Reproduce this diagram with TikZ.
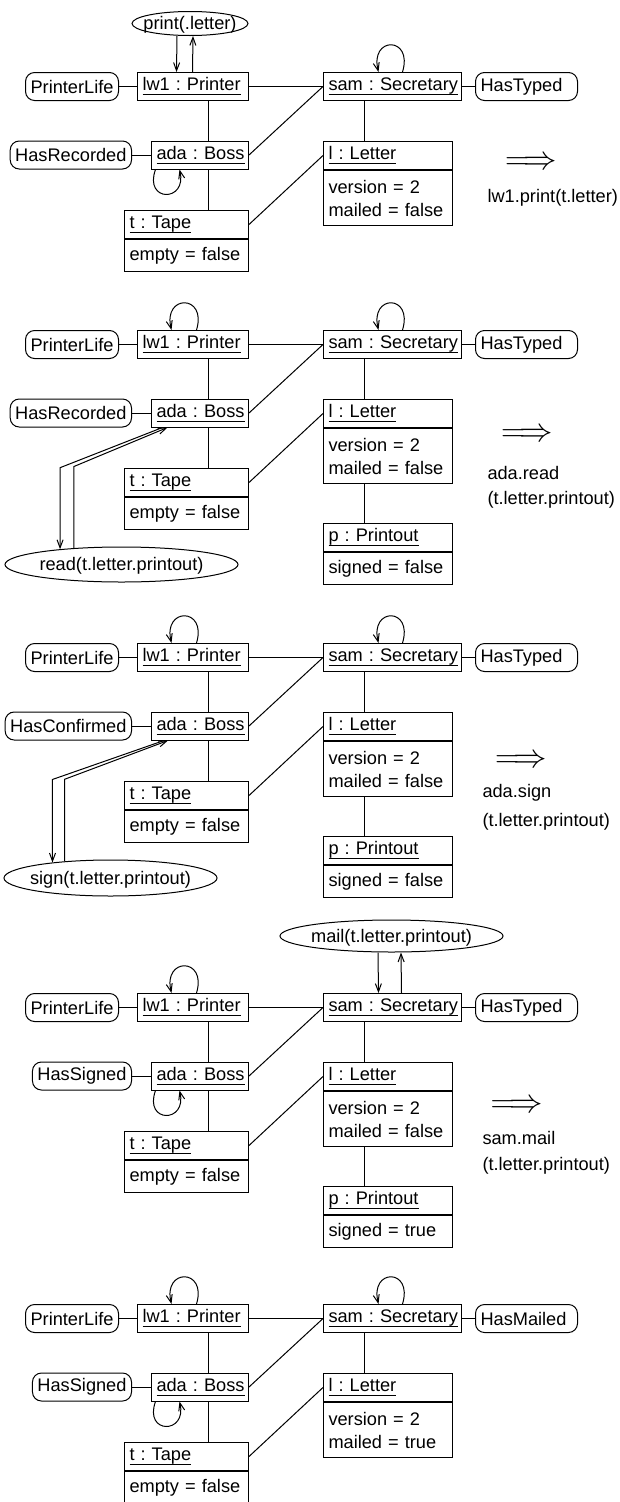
\documentclass[tikz,border=0pt]{standalone}
\usepackage{fontspec}
\setmainfont{Liberation Sans}
\usepackage{amsmath}
\usetikzlibrary{positioning,shapes.geometric,arrows.meta,calc}

\newcommand{\objname}[1]{\underline{\smash[b]{#1}\rule[-1.5pt]{0pt}{0pt}}}
\newcommand{\callname}[1]{\makebox[0pt]{\raisebox{-0.33em}[0pt][0pt]{#1}}}

\begin{document}
\begin{tikzpicture}[
    x=1pt, y=-1pt,
    font=\fontsize{18.2pt}{23pt}\selectfont\frenchspacing,
    line width=1pt,
    node distance=19pt,
    objhead/.style={rectangle, draw, text width=#1, align=left, inner xsep=5pt, inner ysep=0pt, minimum height=28pt},
    objattr/.style={rectangle, draw, text width=#1, align=left, inner xsep=5pt, inner ysep=0pt, minimum height=32pt},
    state/.style={rectangle, draw, rounded corners=9pt, inner xsep=5pt, inner ysep=0pt, minimum height=28pt},
    rstate/.style={state, text width=92pt, align=left},
    call/.style={ellipse, draw, inner sep=0pt},
    arrow/.style={-{Straight Barb[length=8pt,width=6pt]}},
    implies/.style={inner sep=0pt},
    optext/.style={inner sep=0pt, anchor=west}
]
\useasboundingbox (0,0) rectangle (619,1502);

% Panel 1
\begin{scope}[shift={(0,72)}]
  % Objects
  \node[objhead=101pt, anchor=north east] (printer1) at (249,0) {\objname{lw1 : Printer}};
  \node[objhead=128pt, anchor=north west] (secretary1) at (323,0) {\objname{sam : Secretary}};
  \node[objhead=87pt, anchor=north east] (boss1) at (249,68.5) {\objname{ada : Boss}};
  \node[objhead=114pt, anchor=north east] (tape1) at (249,138) {\objname{t : Tape}};
  \node[objattr=114pt, below=0pt of tape1] (tapeattr1) {empty = false};
  \node[objhead=119pt, anchor=north west] (letter1) at (323,69) {\objname{l : Letter}};
  \node[objattr=119pt, minimum height=55pt, below=0pt of letter1] (letterattr1) {version = 2\\mailed = false};
  % States
  \node[state, left=18pt of printer1] (life1) {PrinterLife};
  \node[state, left=of boss1] (recorded1) {HasRecorded};
  \node[rstate, right=13pt of secretary1] (typed1) {HasTyped};
  % Call
  \node[call, minimum width=116pt, minimum height=24pt] (print1) at (190,-48.5) {\callname{print(.letter)}};
  % Links
  \draw (life1) -- (printer1);
  \draw (recorded1) -- (boss1);
  \draw (secretary1) -- (typed1);
  \draw (printer1) -- (secretary1);
  \draw (boss1.east) -- (secretary1.west);
  \draw (tape1.east) -- (letter1.west);
  \draw ([xshift=-41pt]printer1.south east) -- ([xshift=-41pt]boss1.north east);
  \draw ([xshift=-41pt]boss1.south east) -- ([xshift=-41pt]tape1.north east);
  \draw ([xshift=41pt]secretary1.south west) -- ([xshift=41pt]letter1.north west);
  % Messages
  \draw[arrow] ([xshift=-13pt]print1.south) -- ([xshift=-16.5pt]printer1.north);
  \draw[arrow] ([xshift=-0.5pt]printer1.north) -- ([xshift=3pt]print1.south);
  \draw[arrow] ([xshift=10pt]secretary1.north) .. controls +(11,-36) and +(-9,-36) .. ([xshift=-14pt]secretary1.north);
  \draw[arrow] ([xshift=-44.5pt]boss1.south) .. controls +(-12,33) and +(8,33) .. ([xshift=-20.5pt]boss1.south);
  % Step
  \node[implies] (goes1) at (531,91) {\resizebox{52pt}{!}{$\Longrightarrow$}};
  \node[optext] (op1) at (487,126) {lw1.print(t.letter)};
\end{scope}

% Panel 2
\begin{scope}[shift={(0,330)}]
  % Objects
  \node[objhead=101pt, anchor=north east] (printer2) at (249,0) {\objname{lw1 : Printer}};
  \node[objhead=128pt, anchor=north west] (secretary2) at (323,0) {\objname{sam : Secretary}};
  \node[objhead=87pt, anchor=north east] (boss2) at (249,68.5) {\objname{ada : Boss}};
  \node[objhead=114pt, anchor=north east] (tape2) at (249,138) {\objname{t : Tape}};
  \node[objattr=114pt, below=0pt of tape2] (tapeattr2) {empty = false};
  \node[objhead=119pt, anchor=north west] (letter2) at (323,69) {\objname{l : Letter}};
  \node[objattr=119pt, minimum height=55pt, below=0pt of letter2] (letterattr2) {version = 2\\mailed = false};
  \node[objhead=119pt, anchor=north west] (printout2) at (323,193) {\objname{p : Printout}};
  \node[objattr=119pt, below=0pt of printout2] (printoutattr2) {signed = false};
  % States
  \node[state, left=18pt of printer2] (life2) {PrinterLife};
  \node[state, left=of boss2] (recorded2) {HasRecorded};
  \node[rstate, right=13pt of secretary2] (typed2) {HasTyped};
  % Call
  \node[call, minimum width=233pt, minimum height=35pt] (read2) at (121.5,234.5) {\callname{read(t.letter.printout)}};
  % Links
  \draw (life2) -- (printer2);
  \draw (recorded2) -- (boss2);
  \draw (secretary2) -- (typed2);
  \draw (printer2) -- (secretary2);
  \draw (boss2.east) -- (secretary2.west);
  \draw (tape2.east) -- (letter2.west);
  \draw ([xshift=-41pt]printer2.south east) -- ([xshift=-41pt]boss2.north east);
  \draw ([xshift=-41pt]boss2.south east) -- ([xshift=-41pt]tape2.north east);
  \draw ([xshift=41pt]secretary2.south west) -- ([xshift=41pt]letter2.north west);
  \draw ([xshift=41pt]letterattr2.south west) -- ([xshift=41pt]printout2.north west);
  % Messages
  \draw[arrow] ([xshift=-37.5pt]boss2.south) -- ($(read2.166)+(0,-81.5)$) -- (read2.166);
  \draw[arrow] (read2.161) -- ++(0,-81.5) -- ([xshift=-32.5pt]boss2.south);
  \draw[arrow] ([xshift=3.5pt]printer2.north) .. controls +(11,-36) and +(-9,-36) .. ([xshift=-21.5pt]printer2.north);
  \draw[arrow] ([xshift=10pt]secretary2.north) .. controls +(11,-36) and +(-9,-36) .. ([xshift=-14pt]secretary2.north);
  % Step
  \node[implies] (goes2) at (527,105) {\resizebox{52pt}{!}{$\Longrightarrow$}};
  \node[optext] (op2) at (487,143) {ada.read};
  \node[optext] (oparg2) at (487,170) {(t.letter.printout)};
\end{scope}

% Panel 3
\begin{scope}[shift={(0,643)}]
  % Objects
  \node[objhead=101pt, anchor=north east] (printer3) at (249,0) {\objname{lw1 : Printer}};
  \node[objhead=128pt, anchor=north west] (secretary3) at (323,0) {\objname{sam : Secretary}};
  \node[objhead=87pt, anchor=north east] (boss3) at (249,68.5) {\objname{ada : Boss}};
  \node[objhead=114pt, anchor=north east] (tape3) at (249,138) {\objname{t : Tape}};
  \node[objattr=114pt, below=0pt of tape3] (tapeattr3) {empty = false};
  \node[objhead=119pt, anchor=north west] (letter3) at (323,69) {\objname{l : Letter}};
  \node[objattr=119pt, minimum height=55pt, below=0pt of letter3] (letterattr3) {version = 2\\mailed = false};
  \node[objhead=119pt, anchor=north west] (printout3) at (323,193) {\objname{p : Printout}};
  \node[objattr=119pt, below=0pt of printout3] (printoutattr3) {signed = false};
  % States
  \node[state, left=18pt of printer3] (life3) {PrinterLife};
  \node[state, left=of boss3] (confirmed3) {HasConfirmed};
  \node[rstate, right=13pt of secretary3] (typed3) {HasTyped};
  % Call
  \node[call, minimum width=213pt, minimum height=36pt] (sign3) at (110.5,235) {\callname{sign(t.letter.printout)}};
  % Links
  \draw (life3) -- (printer3);
  \draw (confirmed3) -- (boss3);
  \draw (secretary3) -- (typed3);
  \draw (printer3) -- (secretary3);
  \draw (boss3.east) -- (secretary3.west);
  \draw (tape3.east) -- (letter3.west);
  \draw ([xshift=-41pt]printer3.south east) -- ([xshift=-41pt]boss3.north east);
  \draw ([xshift=-41pt]boss3.south east) -- ([xshift=-41pt]tape3.north east);
  \draw ([xshift=41pt]secretary3.south west) -- ([xshift=41pt]letter3.north west);
  \draw ([xshift=41pt]letterattr3.south west) -- ([xshift=41pt]printout3.north west);
  % Messages
  \draw[arrow] ([xshift=-36pt]boss3.south) -- ($(sign3.165)+(0,-83)$) -- (sign3.165);
  \draw[arrow] (sign3.160) -- ++(0,-82) -- ([xshift=-32pt]boss3.south);
  \draw[arrow] ([xshift=3.5pt]printer3.north) .. controls +(11,-36) and +(-9,-36) .. ([xshift=-21.5pt]printer3.north);
  \draw[arrow] ([xshift=10pt]secretary3.north) .. controls +(11,-36) and +(-9,-36) .. ([xshift=-14pt]secretary3.north);
  % Step
  \node[implies] (goes3) at (521,118) {\resizebox{52pt}{!}{$\Longrightarrow$}};
  \node[optext] (op3) at (482,150) {ada.sign};
  \node[optext] (oparg3) at (482,179) {(t.letter.printout)};
\end{scope}

% Panel 4
\begin{scope}[shift={(0,993)}]
  % Objects
  \node[objhead=101pt, anchor=north east] (printer4) at (249,0) {\objname{lw1 : Printer}};
  \node[objhead=128pt, anchor=north west] (secretary4) at (323,0) {\objname{sam : Secretary}};
  \node[objhead=87pt, anchor=north east] (boss4) at (249,68.5) {\objname{ada : Boss}};
  \node[objhead=114pt, anchor=north east] (tape4) at (249,138) {\objname{t : Tape}};
  \node[objattr=114pt, below=0pt of tape4] (tapeattr4) {empty = false};
  \node[objhead=119pt, anchor=north west] (letter4) at (323,69) {\objname{l : Letter}};
  \node[objattr=119pt, minimum height=55pt, below=0pt of letter4] (letterattr4) {version = 2\\mailed = false};
  \node[objhead=119pt, anchor=north west] (printout4) at (323,193) {\objname{p : Printout}};
  \node[objattr=119pt, below=0pt of printout4] (printoutattr4) {signed = true};
  % States
  \node[state, left=18pt of printer4] (life4) {PrinterLife};
  \node[state, left=of boss4] (signed4) {HasSigned};
  \node[rstate, right=13pt of secretary4] (typed4) {HasTyped};
  % Call
  \node[call, minimum width=223pt, minimum height=32pt] (mail4) at (391.5,-57) {\callname{mail(t.letter.printout)}};
  % Links
  \draw (life4) -- (printer4);
  \draw (signed4) -- (boss4);
  \draw (secretary4) -- (typed4);
  \draw (printer4) -- (secretary4);
  \draw (boss4.east) -- (secretary4.west);
  \draw (tape4.east) -- (letter4.west);
  \draw ([xshift=-41pt]printer4.south east) -- ([xshift=-41pt]boss4.north east);
  \draw ([xshift=-41pt]boss4.south east) -- ([xshift=-41pt]tape4.north east);
  \draw ([xshift=41pt]secretary4.south west) -- ([xshift=41pt]letter4.north west);
  \draw ([xshift=41pt]letterattr4.south west) -- ([xshift=41pt]printout4.north west);
  % Messages
  \draw[arrow] ([xshift=-13.5pt]mail4.south) -- ([xshift=-14pt]secretary4.north);
  \draw[arrow] ([xshift=9pt]secretary4.north) -- ([xshift=9.5pt]mail4.south);
  \draw[arrow] ([xshift=3.5pt]printer4.north) .. controls +(11,-36) and +(-9,-36) .. ([xshift=-21.5pt]printer4.north);
  \draw[arrow] ([xshift=-44.5pt]boss4.south) .. controls +(-12,33) and +(8,33) .. ([xshift=-20.5pt]boss4.south);
  % Step
  \node[implies] (goes4) at (516.5,113) {\resizebox{52pt}{!}{$\Longrightarrow$}};
  \node[optext] (op4) at (482,145) {sam.mail};
  \node[optext] (oparg4) at (482,173) {(t.letter.printout)};
\end{scope}

% Panel 5
\begin{scope}[shift={(0,1304)}]
  % Objects
  \node[objhead=101pt, anchor=north east] (printer5) at (249,0) {\objname{lw1 : Printer}};
  \node[objhead=128pt, anchor=north west] (secretary5) at (323,0) {\objname{sam : Secretary}};
  \node[objhead=87pt, anchor=north east] (boss5) at (249,68.5) {\objname{ada : Boss}};
  \node[objhead=114pt, anchor=north east] (tape5) at (249,138) {\objname{t : Tape}};
  \node[objattr=114pt, below=0pt of tape5] (tapeattr5) {empty = false};
  \node[objhead=119pt, anchor=north west] (letter5) at (323,69) {\objname{l : Letter}};
  \node[objattr=119pt, minimum height=55pt, below=0pt of letter5] (letterattr5) {version = 2\\mailed = true};
  % States
  \node[state, left=18pt of printer5] (life5) {PrinterLife};
  \node[state, left=of boss5] (signed5) {HasSigned};
  \node[rstate, right=13pt of secretary5] (mailed5) {HasMailed};
  % Links
  \draw (life5) -- (printer5);
  \draw (signed5) -- (boss5);
  \draw (secretary5) -- (mailed5);
  \draw (printer5) -- (secretary5);
  \draw (boss5.east) -- (secretary5.west);
  \draw (tape5.east) -- (letter5.west);
  \draw ([xshift=-41pt]printer5.south east) -- ([xshift=-41pt]boss5.north east);
  \draw ([xshift=-41pt]boss5.south east) -- ([xshift=-41pt]tape5.north east);
  \draw ([xshift=41pt]secretary5.south west) -- ([xshift=41pt]letter5.north west);
  % Messages
  \draw[arrow] ([xshift=3.5pt]printer5.north) .. controls +(11,-36) and +(-9,-36) .. ([xshift=-21.5pt]printer5.north);
  \draw[arrow] ([xshift=10pt]secretary5.north) .. controls +(11,-36) and +(-9,-36) .. ([xshift=-14pt]secretary5.north);
  \draw[arrow] ([xshift=-44.5pt]boss5.south) .. controls +(-12,33) and +(8,33) .. ([xshift=-20.5pt]boss5.south);
\end{scope}

\end{tikzpicture}
\end{document}
